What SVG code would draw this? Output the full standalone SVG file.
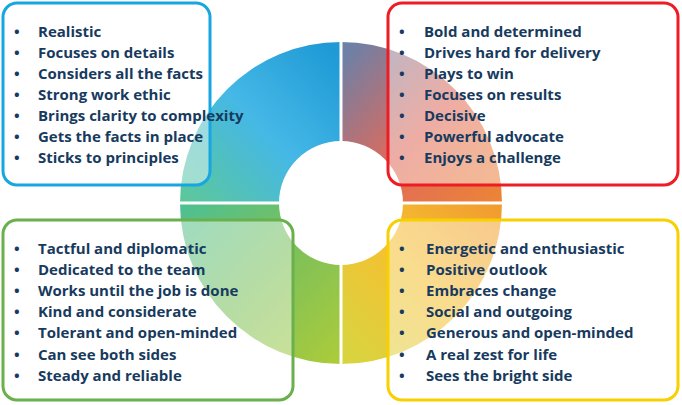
<svg xmlns="http://www.w3.org/2000/svg" width="682" height="405" viewBox="0 0 682 405">
<style>
text{font-family:"Open Sans","Liberation Sans",sans-serif;font-weight:700;font-size:15px;fill:#173a5e}
.box{fill:#fff;fill-opacity:0.45;stroke-width:3}
</style>
<defs>
<linearGradient id="gtl" gradientUnits="userSpaceOnUse" x1="341" y1="60" x2="190" y2="203"><stop offset="0" stop-color="#1f9ad6"/><stop offset="0.5" stop-color="#45b8e6"/><stop offset="1" stop-color="#5cc79c"/></linearGradient>
<linearGradient id="gtr" gradientUnits="userSpaceOnUse" x1="341" y1="60" x2="500" y2="203"><stop offset="0" stop-color="#6e80a6"/><stop offset="0.5" stop-color="#e06a5a"/><stop offset="1" stop-color="#ec8536"/></linearGradient>
<linearGradient id="gbr" gradientUnits="userSpaceOnUse" x1="500" y1="203" x2="341" y2="350"><stop offset="0" stop-color="#f19a30"/><stop offset="0.5" stop-color="#f5c030"/><stop offset="1" stop-color="#d8d440"/></linearGradient>
<linearGradient id="gbl" gradientUnits="userSpaceOnUse" x1="341" y1="350" x2="190" y2="203"><stop offset="0" stop-color="#a9cb3c"/><stop offset="0.5" stop-color="#7cc05a"/><stop offset="1" stop-color="#4fc090"/></linearGradient>
</defs>
<g id="ring">
<path fill="url(#gtl)" d="M341,42 A161,161 0 0 0 180,203 L279,203 A62,62 0 0 1 341,141 Z"/>
<path fill="url(#gtr)" d="M341,42 A161,161 0 0 1 502,203 L403,203 A62,62 0 0 0 341,141 Z"/>
<path fill="url(#gbr)" d="M502,203 A161,161 0 0 1 341,364 L341,265 A62,62 0 0 0 403,203 Z"/>
<path fill="url(#gbl)" d="M341,364 A161,161 0 0 1 180,203 L279,203 A62,62 0 0 0 341,265 Z"/>
<path d="M341,40 V366 M178,203 H504" stroke="#fff" stroke-width="3"/>
</g>
<g id="connectors"/>
<g id="analytical">
<rect class="box" x="3" y="3" width="207" height="182" rx="14" stroke="#17a6e0"/>
<text x="14" y="37">•<tspan x="38">Realistic</tspan></text>
<text x="14" y="58">•<tspan x="38">Focuses on details</tspan></text>
<text x="14" y="79">•<tspan x="38">Considers all the facts</tspan></text>
<text x="14" y="100">•<tspan x="38">Strong work ethic</tspan></text>
<text x="14" y="121">•<tspan x="38">Brings clarity to complexity</tspan></text>
<text x="14" y="142">•<tspan x="38">Gets the facts in place</tspan></text>
<text x="14" y="163">•<tspan x="38">Sticks to principles</tspan></text>
</g>
<g id="driver">
<rect class="box" x="388" y="3" width="290" height="182" rx="14" stroke="#ee1c24"/>
<text x="399" y="37">•<tspan x="424">Bold and determined</tspan></text>
<text x="399" y="58">•<tspan x="424">Drives hard for delivery</tspan></text>
<text x="399" y="79">•<tspan x="424">Plays to win</tspan></text>
<text x="399" y="100">•<tspan x="424">Focuses on results</tspan></text>
<text x="399" y="121">•<tspan x="424">Decisive</tspan></text>
<text x="399" y="142">•<tspan x="424">Powerful advocate</tspan></text>
<text x="399" y="163">•<tspan x="424">Enjoys a challenge</tspan></text>
</g>
<g id="amiable">
<rect class="box" x="3" y="220" width="290" height="180" rx="14" stroke="#6ab04c"/>
<text x="14" y="254">•<tspan x="38">Tactful and diplomatic</tspan></text>
<text x="14" y="275">•<tspan x="38">Dedicated to the team</tspan></text>
<text x="14" y="296">•<tspan x="38">Works until the job is done</tspan></text>
<text x="14" y="317">•<tspan x="38">Kind and considerate</tspan></text>
<text x="14" y="338">•<tspan x="38">Tolerant and open-minded</tspan></text>
<text x="14" y="360">•<tspan x="38">Can see both sides</tspan></text>
<text x="14" y="381">•<tspan x="38">Steady and reliable</tspan></text>
</g>
<g id="expressive">
<rect class="box" x="388" y="220" width="290" height="180" rx="14" stroke="#f8d000"/>
<text x="399" y="254">•<tspan x="426">Energetic and enthusiastic</tspan></text>
<text x="399" y="275">•<tspan x="426">Positive outlook</tspan></text>
<text x="399" y="296">•<tspan x="426">Embraces change</tspan></text>
<text x="399" y="317">•<tspan x="426">Social and outgoing</tspan></text>
<text x="399" y="338">•<tspan x="426">Generous and open-minded</tspan></text>
<text x="399" y="360">•<tspan x="426">A real zest for life</tspan></text>
<text x="399" y="381">•<tspan x="426">Sees the bright side</tspan></text>
</g>
</svg>
